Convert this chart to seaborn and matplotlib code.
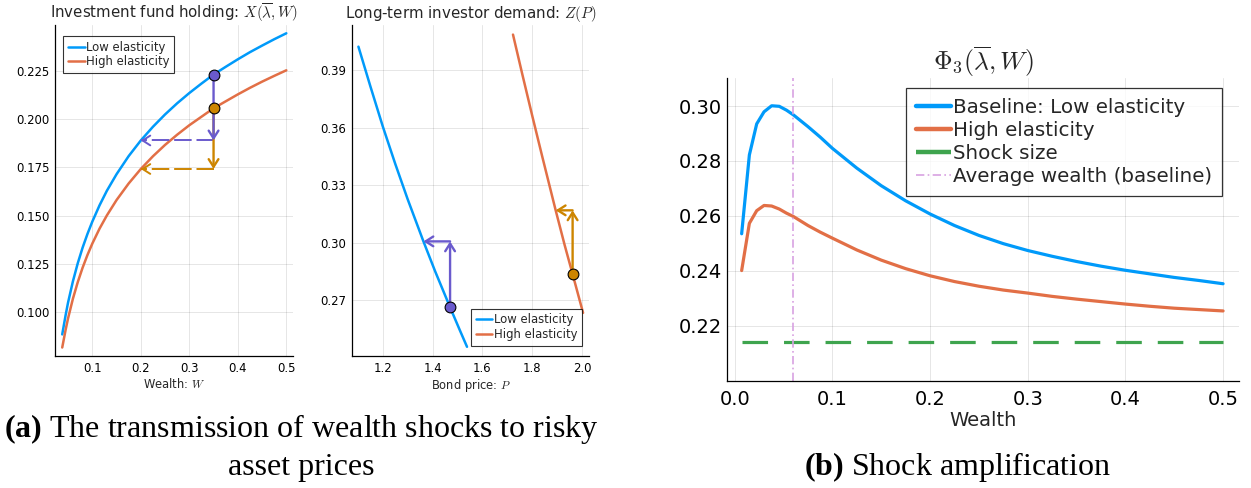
import matplotlib
matplotlib.use("Agg")
import matplotlib.pyplot as plt
import seaborn as sns

# ---------------- data ----------------
# Panel 1: investment fund holding X(lambda, W)
w_hold = [0.038, 0.045, 0.05, 0.06, 0.07, 0.08, 0.09, 0.1, 0.115, 0.13, 0.15, 0.175, 0.2,
          0.225, 0.25, 0.275, 0.3, 0.325, 0.35, 0.375, 0.4, 0.425, 0.45, 0.475, 0.5]
x_low = [0.0884, 0.0984, 0.1049, 0.1159, 0.1253, 0.1334, 0.1405, 0.1469, 0.1554, 0.1629, 0.1715,
         0.1809, 0.1890, 0.1961, 0.2025, 0.2083, 0.2136, 0.2185, 0.2232, 0.2272, 0.2311, 0.2348,
         0.2382, 0.2415, 0.2446]
x_high = [0.0816, 0.0908, 0.0967, 0.1069, 0.1155, 0.1230, 0.1296, 0.1355, 0.1433, 0.1501, 0.1581,
          0.1667, 0.1742, 0.1808, 0.1867, 0.1920, 0.1969, 0.2013, 0.2057, 0.2093, 0.2129, 0.2163,
          0.2195, 0.2225, 0.2254]
w_before = 0.35
w_after = 0.2

# Panel 2: long-term investor demand Z(P)
p_low = [1.102, 1.15, 1.2, 1.25, 1.3, 1.363, 1.41, 1.47, 1.51, 1.538]
z_low = [0.4022, 0.3815, 0.3605, 0.3410, 0.3225, 0.3006, 0.2850, 0.2662, 0.2540, 0.2456]
p_high = [1.7226, 1.76, 1.80, 1.84, 1.894, 1.93, 1.962, 2.004]
z_high = [0.4085, 0.3878, 0.3661, 0.3449, 0.3168, 0.2987, 0.2835, 0.2633]
p_low_before, p_low_after = 1.47, 1.363
p_high_before, p_high_after = 1.962, 1.894

# Panel 3: shock amplification
w_amp = [0.0071, 0.015, 0.0225, 0.03, 0.0378, 0.0456, 0.053, 0.06, 0.075, 0.0875, 0.1, 0.125,
         0.15, 0.175, 0.2, 0.225, 0.25, 0.275, 0.3, 0.325, 0.35, 0.375, 0.4, 0.425, 0.45, 0.475, 0.5]
phi_low = [0.2535, 0.2822, 0.2935, 0.2979, 0.3001, 0.2999, 0.2985, 0.2968, 0.2925, 0.2887, 0.2846,
           0.2774, 0.2710, 0.2655, 0.2607, 0.2565, 0.2529, 0.2499, 0.2474, 0.2453, 0.2434, 0.2417,
           0.2402, 0.2389, 0.2376, 0.2365, 0.2353]
phi_high = [0.2401, 0.2573, 0.2619, 0.2638, 0.2636, 0.2625, 0.2610, 0.2598, 0.2565, 0.2541, 0.2519,
            0.2476, 0.2439, 0.2408, 0.2382, 0.2361, 0.2344, 0.2330, 0.2319, 0.2307, 0.2297, 0.2288,
            0.2279, 0.2271, 0.2264, 0.2259, 0.2254]
shock_size = 0.2141
avg_wealth = 0.0593

xt1 = [0.1, 0.2, 0.3, 0.4, 0.5]
yt1 = [0.100, 0.125, 0.150, 0.175, 0.200, 0.225]
xt2 = [1.2, 1.4, 1.6, 1.8, 2.0]
yt2 = [0.27, 0.30, 0.33, 0.36, 0.39]
xt3 = [0.0, 0.1, 0.2, 0.3, 0.4, 0.5]
yt3 = [0.22, 0.24, 0.26, 0.28, 0.30]

# ---------------- style ----------------
BLUE = "#009AFA"
RED = "#E26F46"
GREEN = "#3EA44E"
VIOLET = "#D8A2E2"
PURPLE = "#6A5ACD"
GOLD = "#CD8500"

sns.set_theme(style="white")
plt.rcParams["font.family"] = ["DejaVu Sans"]
plt.rcParams["mathtext.fontset"] = "cm"
plt.rcParams["mathtext.bf"] = "Liberation Serif:bold"

fig = plt.figure(figsize=(12.51, 4.88), dpi=100)
W, H = 1251, 488


def rect(l, r, t, b):
    return [l / W, (H - b) / H, (r - l) / W, (b - t) / H]


ax1 = fig.add_axes(rect(55, 293, 25, 356))
ax2 = fig.add_axes(rect(351.7, 589.3, 25, 356))
ax3 = fig.add_axes(rect(727.3, 1238.7, 78.3, 380.7))


def style_axes(ax, fs, pad):
    for s in ["top", "right"]:
        ax.spines[s].set_visible(False)
    for s in ["left", "bottom"]:
        ax.spines[s].set_color("black")
        ax.spines[s].set_linewidth(0.9)
    ax.grid(True, color="black", alpha=0.1, lw=0.7)
    ax.tick_params(direction="in", length=3, width=0.7, colors="black", labelsize=fs, pad=pad)


def arrow(ax, start, end, color, lw):
    ax.annotate("", xy=end, xytext=start,
                arrowprops=dict(arrowstyle="->,head_length=0.55,head_width=0.35", color=color,
                                lw=lw, shrinkA=0, shrinkB=0, mutation_scale=10),
                zorder=4)


# ---------------- panel 1 ----------------
sns.lineplot(x=w_hold, y=x_low, ax=ax1, color=BLUE, lw=1.8, label="Low elasticity")
sns.lineplot(x=w_hold, y=x_high, ax=ax1, color=RED, lw=1.8, label="High elasticity")
i_b, i_a = w_hold.index(w_before), w_hold.index(w_after)
arrow(ax1, (w_before, x_high[i_b]), (w_before, x_high[i_a]), GOLD, 1.7)
arrow(ax1, (w_before, x_low[i_b]), (w_before, x_low[i_a]), PURPLE, 1.7)
ax1.plot([w_before, w_after], [x_low[i_a], x_low[i_a]], color=PURPLE, lw=1.4, dashes=(9, 2.5), zorder=3)
ax1.plot([w_before, w_after], [x_high[i_a], x_high[i_a]], color=GOLD, lw=1.4, dashes=(9, 2.5), zorder=3)
arrow(ax1, (w_after + 0.01, x_low[i_a]), (w_after, x_low[i_a]), PURPLE, 1.4)
arrow(ax1, (w_after + 0.01, x_high[i_a]), (w_after, x_high[i_a]), GOLD, 1.4)
ax1.scatter([w_before], [x_low[i_b]], s=60, color=PURPLE, edgecolor="black", lw=0.8, zorder=6)
ax1.scatter([w_before], [x_high[i_b]], s=60, color=GOLD, edgecolor="black", lw=0.8, zorder=6)

ax1.set_xlim(0.0231, 0.5138)
ax1.set_ylim(0.0772, 0.2489)
ax1.set_xticks(xt1)
ax1.set_xticklabels([f"{v:.1f}" for v in xt1])
ax1.set_yticks(yt1)
ax1.set_yticklabels([f"{v:.3f}" for v in yt1])
style_axes(ax1, 8.4, 4)
ax1.set_title(r"Investment fund holding: $X(\overline{\lambda}, W)$", fontsize=10.8, pad=5)
ax1.set_xlabel(r"Wealth: $W$", fontsize=8.3, labelpad=2)
ax1.set_ylabel("")
leg = ax1.legend(loc="upper left", bbox_to_anchor=(0.035, 0.967), borderaxespad=0, fontsize=8.4,
                 fancybox=False, edgecolor="black", handlelength=1.4, handletextpad=0.12,
                 borderpad=0.42, labelspacing=0.12)
leg.get_frame().set_linewidth(0.8)

# ---------------- panel 2 ----------------
sns.lineplot(x=p_low, y=z_low, ax=ax2, color=BLUE, lw=1.8, label="Low elasticity")
sns.lineplot(x=p_high, y=z_high, ax=ax2, color=RED, lw=1.8, label="High elasticity")
zl_b = z_low[p_low.index(p_low_before)]
zl_a = z_low[p_low.index(p_low_after)]
zh_b = z_high[p_high.index(p_high_before)]
zh_a = z_high[p_high.index(p_high_after)]
arrow(ax2, (p_low_before, zl_b), (p_low_before, zl_a), PURPLE, 1.7)
arrow(ax2, (p_low_before, zl_a), (p_low_after, zl_a), PURPLE, 1.7)
arrow(ax2, (p_high_before, zh_b), (p_high_before, zh_a), GOLD, 1.7)
arrow(ax2, (p_high_before, zh_a), (p_high_after, zh_a), GOLD, 1.7)
ax2.scatter([p_low_before], [zl_b], s=60, color=PURPLE, edgecolor="black", lw=0.8, zorder=6)
ax2.scatter([p_high_before], [zh_b], s=60, color=GOLD, edgecolor="black", lw=0.8, zorder=6)

ax2.set_xlim(1.075, 2.029)
ax2.set_ylim(0.2408, 0.4135)
ax2.set_xticks(xt2)
ax2.set_xticklabels([f"{v:.1f}" for v in xt2])
ax2.set_yticks(yt2)
ax2.set_yticklabels([f"{v:.2f}" for v in yt2])
style_axes(ax2, 8.4, 4)
ax2.set_title(r"Long-term investor demand: $Z(P)$", fontsize=10.8, pad=5)
ax2.set_xlabel(r"Bond price: $P$", fontsize=8.3, labelpad=2)
ax2.set_ylabel("")
leg = ax2.legend(loc="lower right", bbox_to_anchor=(0.969, 0.031), borderaxespad=0, fontsize=8.4,
                 fancybox=False, edgecolor="black", handlelength=1.4, handletextpad=0.12,
                 borderpad=0.42, labelspacing=0.12)
leg.get_frame().set_linewidth(0.8)

# ---------------- panel 3 ----------------
sns.lineplot(x=w_amp, y=phi_low, ax=ax3, color=BLUE, lw=2.3, label="Baseline: Low elasticity")
sns.lineplot(x=w_amp, y=phi_high, ax=ax3, color=RED, lw=2.3, label="High elasticity")
sns.lineplot(x=[w_amp[0], w_amp[-1]], y=[shock_size, shock_size], ax=ax3, color=GREEN, lw=2.3,
             label="Shock size")
ax3.lines[-1].set_dashes((8, 5))
ax3.axvline(avg_wealth, color=VIOLET, lw=1.2, dashes=(5, 2, 1, 2),
            label="Average wealth (baseline)")
ax3.set_xlim(-0.0076, 0.516)
ax3.set_ylim(0.200, 0.3101)
ax3.set_xticks(xt3)
ax3.set_xticklabels([f"{v:.1f}" for v in xt3])
ax3.set_yticks(yt3)
ax3.set_yticklabels([f"{v:.2f}" for v in yt3])
style_axes(ax3, 14, 4)
ax3.tick_params(axis="x", pad=7)
ax3.set_title(r"$\Phi_3(\overline{\lambda}, W)$", fontsize=18.5, pad=6)
ax3.set_xlabel("Wealth", fontsize=14, labelpad=1)
ax3.set_ylabel("")
leg = ax3.legend(loc="upper right", bbox_to_anchor=(0.9668, 0.967), borderaxespad=0, fontsize=14.3,
                 fancybox=False, edgecolor="black", handlelength=1.75, handletextpad=0.1,
                 borderpad=0.5, labelspacing=0.2)
leg.get_frame().set_linewidth(0.9)
for h in leg.get_lines()[:3]:
    h.set_linewidth(3.2)

# ---------------- captions ----------------
cap = dict(fontfamily="Liberation Serif", math_fontfamily="custom", fontsize=23,
           ha="center", va="baseline", color="black")
fig.text(301.5 / W, (H - 436.7) / H, r"$\mathbf{(a)}$ The transmission of wealth shocks to risky", **cap)
fig.text(301.5 / W, (H - 475) / H, "asset prices", **cap)
fig.text(957.5 / W, (H - 475) / H, r"$\mathbf{(b)}$ Shock amplification", **cap)

fig.savefig("out.png", dpi=100)
